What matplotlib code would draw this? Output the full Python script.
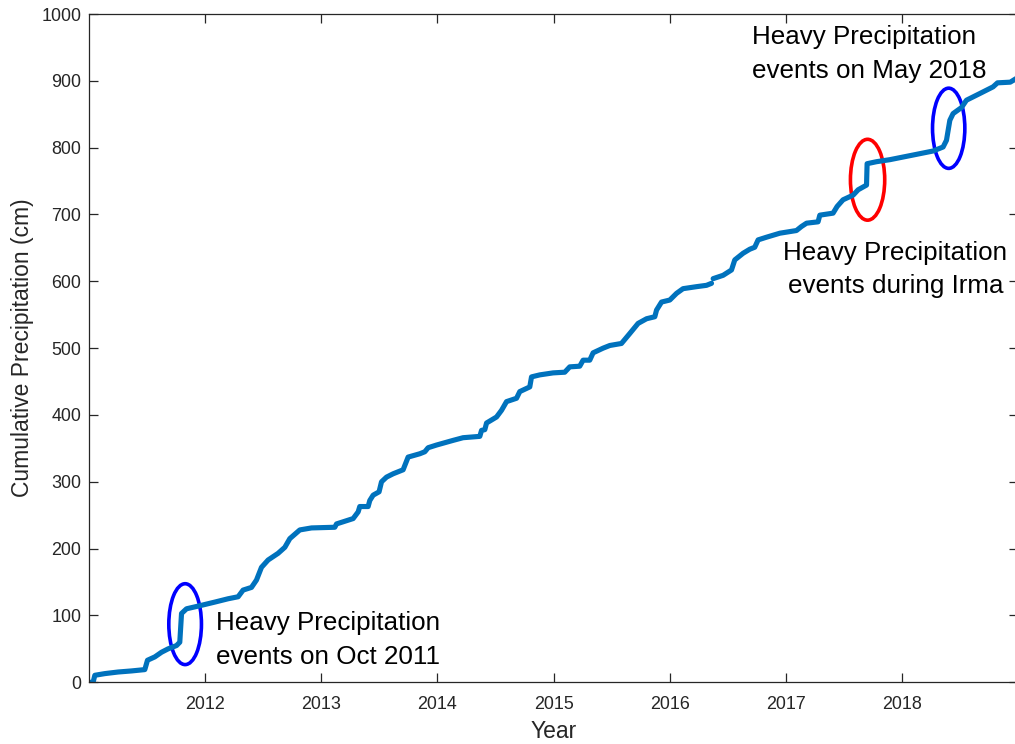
import numpy as np
import matplotlib
matplotlib.use("Agg")
import matplotlib.pyplot as plt
from matplotlib.patches import Ellipse

plt.rcParams["font.family"] = ["Liberation Sans", "DejaVu Sans"]

# Cumulative precipitation record (decimal year, cm); NaN marks a gap in the record
years = [
    2011.000, 2011.037, 2011.052, 2011.138, 2011.252, 2011.367, 2011.482, 2011.505,
    2011.568, 2011.626, 2011.682, 2011.755, 2011.783, 2011.798, 2011.841, 2011.941,
    2012.084, 2012.199, 2012.285, 2012.328, 2012.400, 2012.443, 2012.486, 2012.543,
    2012.629, 2012.687, 2012.730, 2012.816, 2012.917, 2013.117, 2013.132, 2013.275,
    2013.318, 2013.332, 2013.404, 2013.418, 2013.447, 2013.498, 2013.519, 2013.562,
    2013.619, 2013.705, 2013.748, 2013.849, 2013.892, 2013.920, 2013.992, 2014.135,
    2014.221, 2014.365, 2014.380, 2014.408, 2014.423, 2014.509, 2014.552, 2014.595,
    2014.681, 2014.709, 2014.795, 2014.810, 2014.881, 2014.996, 2015.096, 2015.139,
    2015.225, 2015.254, 2015.311, 2015.340, 2015.426, 2015.484, 2015.584, 2015.656,
    2015.727, 2015.800, 2015.871, 2015.886, 2015.929, 2016.000, 2016.058, 2016.114,
    2016.230, 2016.316, 2016.359, 2016.366, 2016.373, 2016.459, 2016.531, 2016.559,
    2016.631, 2016.688, 2016.731, 2016.760, 2016.832, 2016.947, 2017.090, 2017.133,
    2017.177, 2017.276, 2017.291, 2017.405, 2017.440, 2017.491, 2017.578, 2017.621,
    2017.693, 2017.698, 2017.779, 2017.893, 2018.008, 2018.123, 2018.266, 2018.352,
    2018.381, 2018.410, 2018.438, 2018.510, 2018.553, 2018.668, 2018.782, 2018.820,
    2018.930, 2018.995,
]
cum_precip_cm = [
    0, 0, 10.5, 13, 15.4, 17, 19, 33,
    38, 45, 50, 55, 60, 103, 110, 114,
    120, 125, 128, 138, 142, 153, 172, 183,
    193, 202, 215, 228, 231, 232, 237, 245,
    255, 263, 263, 272, 280, 285, 300, 307,
    312, 318, 337, 342, 345, 351, 355, 362,
    366, 368, 377, 378, 388, 397, 407, 420,
    425, 435, 442, 457, 460, 463, 464, 472,
    473, 482, 482, 493, 500, 504, 507, 522,
    537, 544, 547, 557, 569, 572, 582, 589,
    592, 594, 597, np.nan, 604, 609, 617, 632,
    642, 648, 651, 662, 666, 672, 676, 682,
    687, 689, 699, 702, 712, 722, 729, 737,
    744, 776, 779, 782, 786, 790, 795, 801,
    811, 841, 851, 860, 871, 881, 891, 897,
    898, 905,
]

year_ticks = [2012, 2013, 2014, 2015, 2016, 2017, 2018]
value_ticks = [0, 100, 200, 300, 400, 500, 600, 700, 800, 900, 1000]

# Highlighted events: (centre year, centre cm, width yr, height cm, colour)
event_centres = [(2011.829, 87), (2017.702, 752), (2018.400, 829)]
event_sizes = [(0.281, 121), (0.295, 121), (0.278, 120)]
event_colors = ["#0000FF", "#FF0000", "#0000FF"]

fig = plt.figure(figsize=(10.15, 7.44), dpi=100)
# the right-hand frame edge sits just past the figure border
ax = fig.add_axes([88.8 / 1015, 61.7 / 744, 929.6 / 1015, 668.3 / 744])

ax.plot(years, cum_precip_cm, color="#0072BD", lw=3.7,
        solid_capstyle="round", solid_joinstyle="round")

for (cx, cy), (w, h), c in zip(event_centres, event_sizes, event_colors):
    ax.add_patch(Ellipse((cx, cy), w, h, fill=False, edgecolor=c, lw=2.6))

text_kw = dict(fontsize=18.7, color="black", linespacing=1.5)
ax.text(2012.093, 63, "Heavy Precipitation\nevents on Oct 2011",
        ha="left", va="center", **text_kw)
ax.text(2017.941, 618, "Heavy Precipitation\nevents during Irma",
        ha="center", va="center", **text_kw)
ax.text(2016.706, 940, "Heavy Precipitation\nevents on May 2018",
        ha="left", va="center", **text_kw)

ax.set_xlim(2011, 2019)
ax.set_ylim(0, 1000)
ax.set_xticks(year_ticks)
ax.set_xticklabels([str(y) for y in year_ticks])
ax.set_yticks(value_ticks)

ax.tick_params(direction="in", length=6.8, width=0.9, colors="#262626",
               labelsize=12.9, top=True, right=True)
ax.tick_params(axis="x", pad=10)
ax.tick_params(axis="y", pad=5.5)
for s in ax.spines.values():
    s.set_color("#262626")
    s.set_linewidth(0.9)

ax.set_xlabel("Year", fontsize=16.5, color="#262626", labelpad=5)
ax.set_ylabel("Cumulative Precipitation (cm)", fontsize=16.5, color="#262626",
              labelpad=5)

fig.savefig("out.png", dpi=100)
